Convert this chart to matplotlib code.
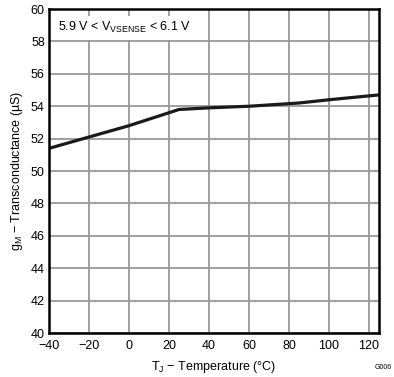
import numpy as np
import matplotlib
matplotlib.use('Agg')
import matplotlib.pyplot as plt

plt.rcParams['font.family'] = ['Liberation Sans', 'DejaVu Sans']

temp = [-40, -20, 0, 25, 40, 60, 85, 100, 125]
gm = [51.4, 52.1, 52.8, 53.8, 53.9, 54.0, 54.2, 54.4, 54.7]
xticks = [-40, -20, 0, 20, 40, 60, 80, 100, 120]
yticks = list(range(40, 61, 2))

fig = plt.figure(figsize=(3.94, 3.77), dpi=100)
ax = fig.add_axes([0.1244, 0.1167, 0.962 - 0.1244, 0.976 - 0.1167])

ax.plot(temp, gm, color='#1a1a1a', lw=2.3, zorder=3)
ax.set_xlim(-40, 125)
ax.set_ylim(40, 60)
ax.set_xticks(xticks)
ax.set_yticks(yticks)
ax.set_xticklabels(['\u221240', '\u221220', '0', '20', '40', '60', '80', '100', '120'])
ax.grid(True, color='#999999', lw=1.3, zorder=1)
ax.tick_params(length=0, labelsize=9)
ax.tick_params(axis='x', pad=5)
ax.tick_params(axis='y', pad=3)
for s in ax.spines.values():
    s.set_linewidth(1.8)
    s.set_zorder(4)

ax.set_xlabel('T$_\\mathregular{J}$ \u2212 Temperature (\u00b0C)', fontsize=9, labelpad=5)
ax.set_ylabel('g$_\\mathregular{M}$ \u2212 Transconductance (\u00b5S)', fontsize=9, labelpad=4)

ax.text(0.028, 0.965, '5.9 V < V$_\\mathregular{VSENSE}$ < 6.1 V', transform=ax.transAxes,
        fontsize=9, va='top', ha='left', zorder=5,
        bbox=dict(facecolor='white', edgecolor='none', pad=3.5))

fig.text(0.995, 0.015, 'G006', fontsize=5, ha='right', va='bottom')

fig.savefig('out.png', dpi=100)
